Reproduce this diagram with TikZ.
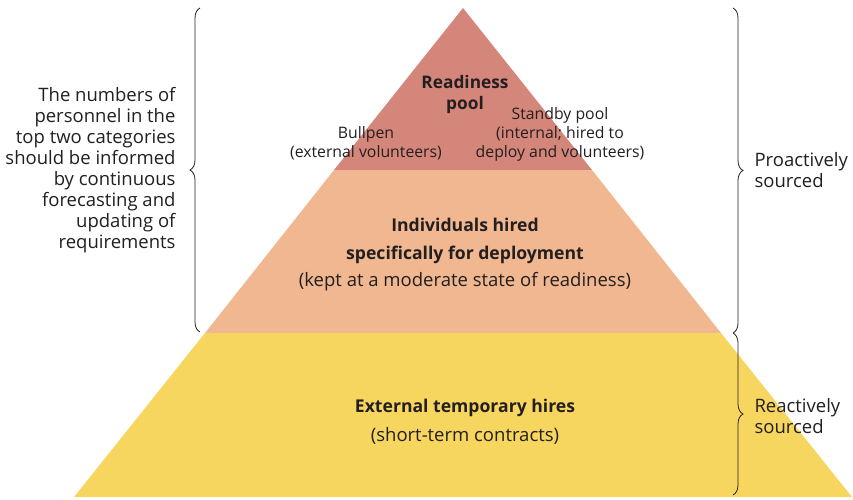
\documentclass[tikz,border=0pt]{standalone}
\usepackage{fontspec}
\setmainfont{Open Sans}
\usetikzlibrary{positioning, decorations.pathreplacing}
\definecolor{readyred}{HTML}{D5867A}
\definecolor{hiredorange}{HTML}{F0B790}
\definecolor{tempyellow}{HTML}{F7D660}
\definecolor{inkgray}{HTML}{231F20}

\begin{document}
\begin{tikzpicture}[x=1pt, y=-1pt, text=inkgray,
    bigtext/.style={align=center, font=\fontsize{18.5}{21}\selectfont},
    smalltext/.style={align=center, font=\fontsize{15.8}{19}\selectfont},
    bracket/.style={draw=inkgray, line width=0.8pt, decorate, decoration={brace, amplitude=10pt}}]
    \useasboundingbox (0,0) rectangle (853,499);
    % Layers
    \coordinate (apex) at (463,8);
    \fill[readyred] (apex) -- (592,170) -- (334,170) -- cycle;
    \fill[hiredorange] (334,170) -- (592,170) -- (721,333) -- (205,333) -- cycle;
    \fill[tempyellow] (205,333) -- (721,333) -- (852,497) -- (74,497) -- cycle;

    % Layer labels
    \node[bigtext, font=\fontsize{17.3}{21}\bfseries] (ready) at (465,95) {Readiness\\pool};
    \node[smalltext] (bullpen) at (366,143) {Bullpen\\(external volunteers)};
    \node[smalltext] (standby) at (560,134) {Standby pool\\(internal; hired to\\deploy and volunteers)};
    \node[bigtext, font=\fontsize{18.5}{27.5}\selectfont] (hired) at (465,255)
        {\fontsize{17.6}{27.5}\selectfont\textbf{Individuals hired}\\\fontsize{17.6}{27.5}\selectfont\textbf{specifically for deployment}\\(kept at a moderate state of readiness)};
    \node[bigtext, font=\fontsize{18.5}{29}\selectfont] (temp) at (465,422)
        {\fontsize{17.6}{29}\selectfont\textbf{External temporary hires}\\(short-term contracts)};

    % Braces
    \coordinate (ltop) at (200,8);
    \coordinate (lbot) at (200,332);
    \coordinate (rtop) at (733,8);
    \coordinate (rmid) at (733,333);
    \coordinate (rbot) at (733,495);
    \draw[bracket] (lbot) -- (ltop);
    \draw[bracket] (rtop) -- (rmid);
    \draw[bracket] (rmid) -- (rbot);

    % Side notes
    \node[bigtext, align=right, anchor=east] (numbers) at (179,170)
        {The numbers of\\personnel in the\\top two categories\\should be informed\\by continuous\\forecasting and\\updating of\\requirements};
    \node[bigtext, align=left, anchor=west] (proactive) at (751,170) {Proactively\\sourced};
    \node[bigtext, align=left, anchor=west] (reactive) at (751,416) {Reactively\\sourced};
\end{tikzpicture}
\end{document}
